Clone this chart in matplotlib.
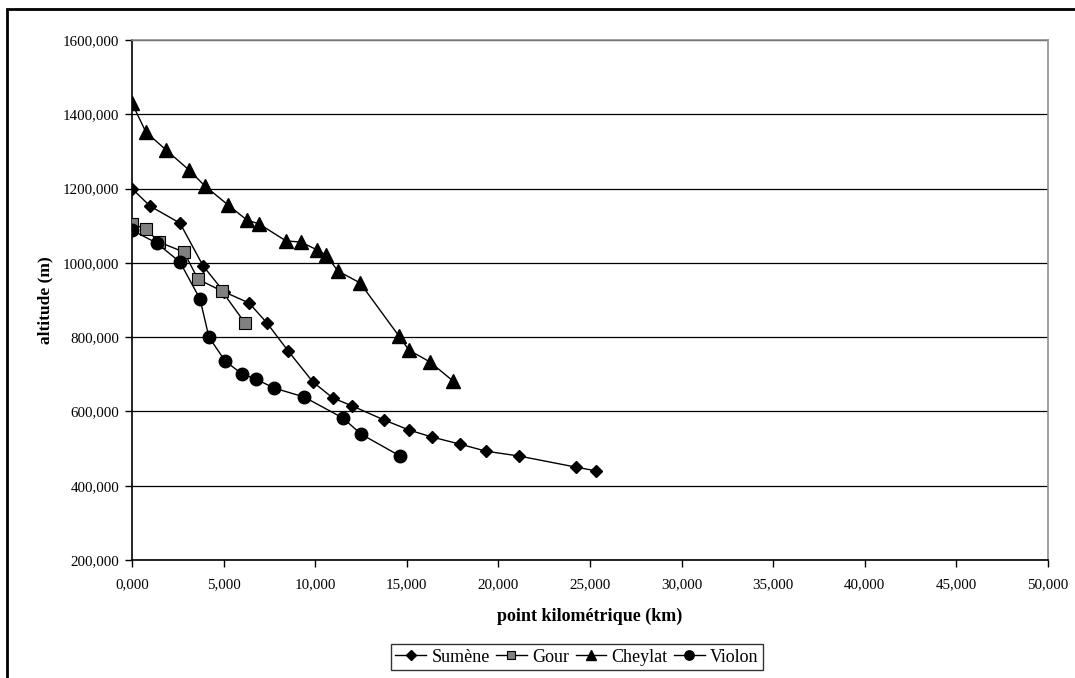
import matplotlib
matplotlib.use("Agg")
import matplotlib.pyplot as plt
from matplotlib.patches import Rectangle
from matplotlib.ticker import FuncFormatter, MultipleLocator

plt.rcParams['font.family'] = ['Liberation Serif', 'DejaVu Serif']

# data (km, m)
sumene_km = [0, 0.98, 2.62, 3.88, 5.02, 6.39, 7.37, 8.52, 9.88, 10.97, 12.01,
             13.76, 15.12, 16.38, 17.90, 19.32, 21.12, 24.24, 25.33]
sumene_alt = [1200, 1153, 1107, 992, 922, 892, 838, 763, 679, 636, 615,
              577, 550, 531, 512, 493, 480, 450, 440]

gour_km = [0, 0.76, 1.47, 2.84, 3.60, 4.91, 6.17]
gour_alt = [1105, 1091, 1056, 1029, 956, 924, 838]

cheylat_km = [0, 0.76, 1.86, 3.11, 3.98, 5.24, 6.28, 6.93, 8.41, 9.22, 10.10,
              10.59, 11.24, 12.45, 14.57, 15.12, 16.27, 17.52]
cheylat_alt = [1430, 1352, 1304, 1250, 1207, 1156, 1115, 1105, 1059, 1056, 1035,
               1021, 978, 946, 803, 765, 733, 682]

violon_km = [0, 1.36, 2.62, 3.71, 4.20, 5.08, 6.00, 6.77, 7.75, 9.39, 11.52,
             12.50, 14.63]
violon_alt = [1088, 1053, 1002, 903, 800, 736, 701, 687, 663, 639, 582, 539, 480]

W, H = 1075, 678
fig = plt.figure(figsize=(W / 100, H / 100), dpi=100)
ax = fig.add_axes([132 / W, 1 - 560 / H, (1048 - 132) / W, (560 - 40) / H])

ax.plot(sumene_km, sumene_alt, color='black', lw=1, marker='D', ms=6.5,
        mfc='black', mec='black', label='Sumène', zorder=3)
ax.plot(gour_km, gour_alt, color='black', lw=1, marker='s', ms=8,
        mfc='#808080', mec='black', mew=0.8, label='Gour', zorder=3)
ax.plot(cheylat_km, cheylat_alt, color='black', lw=1, marker='^', ms=10,
        mfc='black', mec='black', label='Cheylat', zorder=3)
ax.plot(violon_km, violon_alt, color='black', lw=1, marker='o', ms=9,
        mfc='black', mec='black', label='Violon', zorder=3)

ax.set_xlim(0, 50)
ax.set_ylim(200, 1600)
ax.xaxis.set_major_locator(MultipleLocator(5))
ax.yaxis.set_major_locator(MultipleLocator(200))
ax.xaxis.set_major_formatter(FuncFormatter(lambda v, p: f"{v:.0f},000"))
ax.yaxis.set_major_formatter(FuncFormatter(lambda v, p: f"{v:.0f},000"))
ax.tick_params(axis='both', direction='out', length=5, width=1, labelsize=10.8,
               colors='black', pad=4)
ax.tick_params(axis='x', pad=8)

ax.grid(axis='y', color='black', lw=0.9)
ax.set_axisbelow(True)
for s in ['top', 'right']:
    ax.spines[s].set_color('#909090')
    ax.spines[s].set_linewidth(1.2)
for s in ['left', 'bottom']:
    ax.spines[s].set_color('black')
    ax.spines[s].set_linewidth(1.2)

ax.set_xlabel('point kilométrique (km)', fontsize=13, fontweight='bold', labelpad=12)
ax.set_ylabel('altitude (m)', fontsize=12.5, fontweight='bold', labelpad=7)

leg = fig.legend(loc='center', bbox_to_anchor=(577 / W, 1 - 657 / H), ncol=4,
                 fontsize=13, frameon=True, fancybox=False, handlelength=1.7,
                 handletextpad=0.3, columnspacing=0.35, borderpad=0.25,
                 borderaxespad=0, markerscale=0.75)
leg.get_frame().set_edgecolor('black')
leg.get_frame().set_linewidth(1)

# outer chart border
fig.patches.append(Rectangle((7 / W, -0.1), 1.2, 1 - 9 / H + 0.1,
                             transform=fig.transFigure, fill=False,
                             edgecolor='black', lw=2, clip_on=False))

fig.savefig('out.png', dpi=100)
